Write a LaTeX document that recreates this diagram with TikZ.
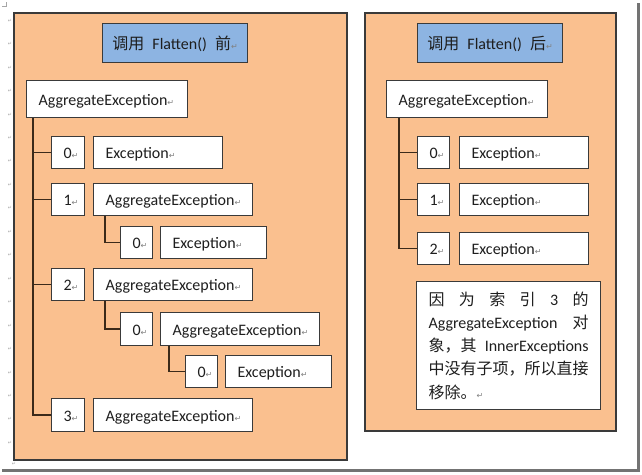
\documentclass[tikz,border=0pt]{standalone}
\usepackage{fontspec}
\setmainfont{Carlito}
\newfontfamily\cjk{Noto Sans CJK SC}
\newfontfamily\symfont{DejaVu Sans}
\definecolor{panelfill}{HTML}{FAC08F}
\definecolor{headfill}{HTML}{8DB4E2}
\definecolor{edgecol}{HTML}{3A3A3A}
\definecolor{linkcol}{HTML}{3B2A1A}
\definecolor{txt}{HTML}{1E1E1E}
\newcommand\retmark{{\symfont\fontsize{8}{8}\selectfont\color{gray}↵}}
\newcommand\noteline[1]{\leavevmode\hbox to 160pt{#1}}
\tikzset{
  panel/.style={draw=edgecol, line width=1.2pt, fill=panelfill},
  headbox/.style={draw=edgecol, line width=1.2pt, fill=headfill, anchor=north west,
    inner sep=0pt, align=center, minimum width=145pt, minimum height=39pt, text=txt,
    text height=13pt, text depth=0pt},
  box/.style={draw=edgecol, line width=1.2pt, fill=white, anchor=north west,
    inner xsep=12pt, inner ysep=0pt, align=left, text=txt},
  cell/.style={box, text height=12.6pt, text depth=0pt},
  bw/.style={text width=#1},
  bh/.style={minimum height=#1},
  link/.style={draw=linkcol, line width=1.5pt},
  pmark/.style={inner sep=0pt, font=\symfont\fontsize{5}{5}\selectfont, text=gray!70},
}
\begin{document}
\begin{tikzpicture}[x=1pt, y=-1pt, font=\fontsize{16}{23.3}\selectfont]
\useasboundingbox (0,0) rectangle (642,474);
\fill[white] (0,0) rectangle (642,474);
% page shadow
\draw[black!55, line width=2.5pt] (2,470.5) -- (638.5,470.5) -- (638.5,3);
% corner marks
\draw[gray!70, line width=0.5pt] (2,6) -- (6,6) -- (6,2);
\node[pmark] (bl) at (14,464) {↵};
\foreach \k in {0,...,18} \node[pmark] (m\k) at (10,20.7+23.45*\k) {↵};

% panels
\draw[panel] (14,13) rectangle (347,460);
\draw[panel] (365,13) rectangle (616,431);

% headers
\node[headbox] (hl) at (102,23) {{\cjk 调用}\hspace{8pt}Flatten()\hspace{8pt}{\cjk 前}\retmark};
\node[headbox] (hr) at (417,23) {{\cjk 调用}\hspace{8pt}Flatten()\hspace{8pt}{\cjk 后}\retmark};

% left tree
\node[cell, bw=137pt, bh=37pt] (root) at (26,80) {AggregateException\retmark};
\node[cell, bw=9pt, bh=32pt] (i0) at (51,136) {0\retmark};
\node[cell, bw=105pt, bh=32pt] (l0) at (93,136) {Exception\retmark};
\node[cell, bw=9pt, bh=32pt] (i1) at (51,183) {1\retmark};
\node[cell, bw=135pt, bh=32pt] (l1) at (93,183) {AggregateException\retmark};
\node[cell, bw=8pt, bh=32pt] (i10) at (120,226) {0\retmark};
\node[cell, bw=82pt, bh=32pt] (l10) at (160,226) {Exception\retmark};
\node[cell, bw=9pt, bh=32pt] (i2) at (51,268) {2\retmark};
\node[cell, bw=135pt, bh=32pt] (l2) at (93,268) {AggregateException\retmark};
\node[cell, bw=8pt, bh=33pt] (i20) at (120,312) {0\retmark};
\node[cell, bw=135pt, bh=33pt] (l20) at (160,312) {AggregateException\retmark};
\node[cell, bw=8pt, bh=32pt] (i200) at (185,355) {0\retmark};
\node[cell, bw=82pt, bh=32pt] (l200) at (225,355) {Exception\retmark};
\node[cell, bw=9pt, bh=33pt] (i3) at (51,398) {3\retmark};
\node[cell, bw=135pt, bh=33pt] (l3) at (93,398) {AggregateException\retmark};

\foreach \t in {i0,i1,i2,i3}
  \draw[link] ([xshift=7pt]root.south west) |- (\t.west);
\draw[link] ([xshift=12pt]l1.south west) |- (i10.west);
\draw[link] ([xshift=12pt]l2.south west) |- (i20.west);
\draw[link] ([xshift=9pt]l20.south west) |- (i200.west);

% right tree
\node[cell, bw=137pt, bh=37pt] (rroot) at (386,80) {AggregateException\retmark};
\node[cell, bw=8pt, bh=32pt] (ri0) at (417,136) {0\retmark};
\node[cell, bw=105pt, bh=32pt] (rl0) at (459,136) {Exception\retmark};
\node[cell, bw=8pt, bh=32pt] (ri1) at (417,183) {1\retmark};
\node[cell, bw=105pt, bh=32pt] (rl1) at (459,183) {Exception\retmark};
\node[cell, bw=8pt, bh=32pt] (ri2) at (417,232) {2\retmark};
\node[cell, bw=105pt, bh=32pt] (rl2) at (459,232) {Exception\retmark};

\foreach \t in {ri0,ri1,ri2}
  \draw[link] ([xshift=13pt]rroot.south west) |- (\t.west);

% note
\node[box, bw=160pt, bh=128pt] (note) at (416,281) {%
\noteline{\cjk 因\hfill 为\hfill 索\hfill 引\hfill{\rmfamily 3}\hfill 的}\\
\noteline{AggregateException\hfill{\cjk 对}}\\
\noteline{{\cjk 象，其}\hfill InnerExceptions}\\
\noteline{\cjk 中没有子项，所以直接}\\
\noteline{{\cjk 移除。}\retmark\hfill}};
\end{tikzpicture}
\end{document}
